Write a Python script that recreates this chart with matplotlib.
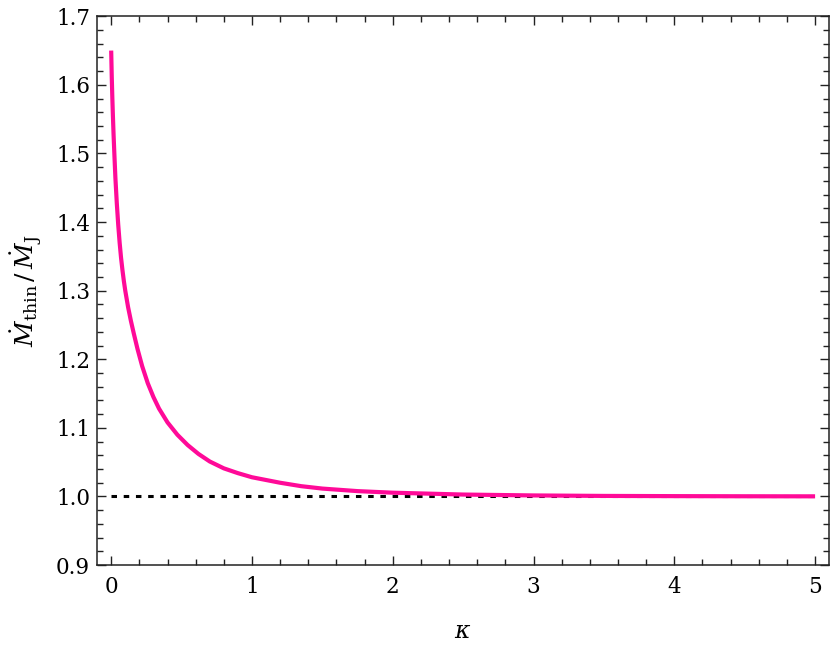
import matplotlib
matplotlib.use("Agg")
import matplotlib.pyplot as plt
from matplotlib.ticker import MultipleLocator

kappa = [0.0, 0.004, 0.008, 0.012, 0.017, 0.023, 0.030, 0.040, 0.050, 0.060,
         0.070, 0.080, 0.090, 0.100, 0.120, 0.140, 0.160, 0.187, 0.220, 0.260,
         0.300, 0.340, 0.400, 0.470, 0.543, 0.620, 0.700, 0.800, 0.900, 1.000,
         1.100, 1.200, 1.350, 1.500, 1.750, 2.000, 2.500, 3.000, 3.500, 4.000,
         4.500, 5.000]
ratio = [1.650, 1.612, 1.582, 1.556, 1.527, 1.497, 1.464, 1.427, 1.396, 1.370,
         1.348, 1.330, 1.314, 1.300, 1.276, 1.256, 1.238, 1.215, 1.190, 1.165,
         1.145, 1.128, 1.108, 1.090, 1.075, 1.062, 1.051, 1.041, 1.034, 1.028,
         1.024, 1.020, 1.015, 1.0115, 1.0078, 1.0055, 1.0028, 1.0015, 1.0008, 1.0005,
         1.0003, 1.0002]
ref_x = [0.0, 5.0]
ref_y = [1.0, 1.0]

plt.rcParams['font.family'] = ['DejaVu Serif']
plt.rcParams['mathtext.fontset'] = 'dejavuserif'

fig = plt.figure(figsize=(8.30, 6.51), dpi=100)
ax = fig.add_axes([0.117, 0.132, 0.882, 0.843])

ax.plot(ref_x, ref_y, color='black', lw=2.2, dashes=(1.8, 2.2), zorder=2)
ax.plot(kappa, ratio, color='#ff0a98', lw=3.0, zorder=3, solid_capstyle='butt',
        solid_joinstyle='round')

ax.set_xlim(-0.1, 5.1)
ax.set_ylim(0.9, 1.7)
ax.xaxis.set_major_locator(MultipleLocator(1))
ax.xaxis.set_minor_locator(MultipleLocator(0.2))
ax.yaxis.set_minor_locator(MultipleLocator(0.02))
ax.set_yticks([0.9, 1.0, 1.1, 1.2, 1.3, 1.4, 1.5, 1.6, 1.7])
ax.set_yticklabels(['0.9', '1.0', '1.1', '1.2', '1.3', '1.4', '1.5', '1.6', '1.7'])

ax.tick_params(which='both', direction='in', top=True, right=True, width=1.0, color='#222222')
ax.tick_params(which='major', length=6.5, labelsize=15.5)
ax.tick_params(which='minor', length=4)
ax.tick_params(axis='x', which='major', pad=8)
ax.tick_params(axis='y', which='major', pad=5)
for s in ax.spines.values():
    s.set_linewidth(1.1)
    s.set_color('#222222')

ax.set_xlabel(r'$\kappa$', fontsize=17, labelpad=16)
ax.set_ylabel(r'$\dot{M}_{\rm thin}\,/\,\dot{M}_{\rm J}$', fontsize=18, labelpad=8)

fig.savefig('out.png', dpi=100)
